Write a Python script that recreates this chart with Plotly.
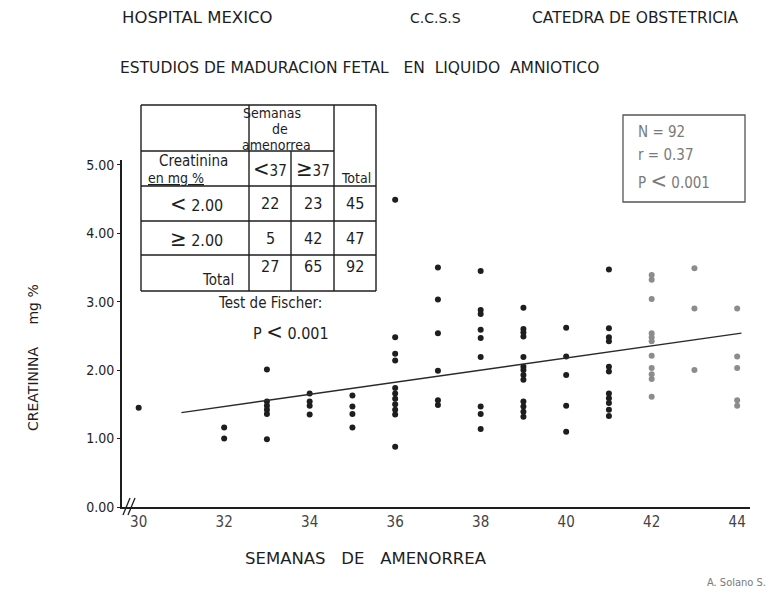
import plotly.graph_objects as go

# ---------------- data ----------------
semanas = [30,
           32, 32,
           33, 33, 33, 33, 33, 33,
           34, 34, 34, 34,
           35, 35, 35, 35,
           36, 36, 36, 36, 36, 36, 36, 36, 36, 36, 36,
           37, 37, 37, 37, 37, 37,
           38, 38, 38, 38, 38, 38, 38, 38, 38,
           39, 39, 39, 39, 39, 39, 39, 39, 39, 39, 39, 39, 39,
           40, 40, 40, 40, 40,
           41, 41, 41, 41, 41, 41, 41, 41, 41, 41, 41,
           42, 42, 42, 42, 42, 42, 42, 42, 42, 42, 42,
           43, 43, 43,
           44, 44, 44, 44, 44]
creatinina = [1.45,
              1.16, 1.00,
              2.01, 1.54, 1.48, 1.42, 1.36, 0.99,
              1.66, 1.54, 1.48, 1.35,
              1.63, 1.47, 1.36, 1.16,
              4.49, 2.48, 2.24, 2.14, 1.74, 1.66, 1.58, 1.50, 1.42, 1.35, 0.88,
              3.50, 3.03, 2.54, 1.99, 1.56, 1.49,
              3.45, 2.88, 2.82, 2.59, 2.47, 2.19, 1.47, 1.36, 1.14,
              2.91, 2.60, 2.55, 2.49, 2.19, 2.05, 2.00, 1.93, 1.86, 1.54, 1.47, 1.39, 1.32,
              2.62, 2.20, 1.93, 1.48, 1.10,
              3.47, 2.61, 2.48, 2.42, 2.05, 1.98, 1.66, 1.59, 1.52, 1.42, 1.33,
              3.39, 3.32, 3.04, 2.54, 2.48, 2.42, 2.21, 2.03, 1.94, 1.87, 1.61,
              3.49, 2.90, 2.00,
              2.90, 2.20, 2.03, 1.56, 1.48]

recta_x = [31.0, 44.1]
recta_y = [1.38, 2.54]

x_ticks = [30, 32, 34, 36, 38, 40, 42, 44]
y_ticks = [0, 1, 2, 3, 4, 5]

# contingency table
tabla_filas = ["< 2.00", "≥ 2.00", "Total"]
tabla_menor37 = [22, 5, 27]
tabla_mayor37 = [23, 42, 65]
tabla_total = [45, 47, 92]

stats_lines = ["N = 92", "r = 0.37", "P < 0.001"]

# ---------------- layout helpers ----------------
W, H = 773, 601
L, R, T, B = 122, 750, 160, 507
XR = [29.61, 44.30]
YR = [0, 5.07]


def px(x):
    return (x - L) / (R - L)


def py(y):
    return (B - y) / (B - T)


COND = "Liberation Sans Narrow, DejaVu Sans Condensed, Roboto Condensed, Arial Narrow, sans-serif"
WIDE = "DejaVu Sans, Verdana, sans-serif"
INK = "#1e1e1e"
FADE = "#7a7a7a"

colors = [INK if s <= 41 else "#8c8c8c" for s in semanas]

fig = go.Figure()
fig.add_trace(go.Scatter(x=semanas, y=creatinina, mode="markers",
                         marker=dict(size=6, color=colors, line=dict(width=0)),
                         showlegend=False, hoverinfo="x+y"))
fig.add_trace(go.Scatter(x=recta_x, y=recta_y, mode="lines",
                         line=dict(color="#2a2a2a", width=1.3),
                         showlegend=False, hoverinfo="skip"))

shapes = []


def hline(x0, x1, y, color=INK, w=1.4):
    shapes.append(dict(type="line", xref="paper", yref="paper",
                       x0=px(x0), x1=px(x1), y0=py(y), y1=py(y),
                       line=dict(color=color, width=w)))


def vline(x, y0, y1, color=INK, w=1.4):
    shapes.append(dict(type="line", xref="paper", yref="paper",
                       x0=px(x), x1=px(x), y0=py(y0), y1=py(y1),
                       line=dict(color=color, width=w)))


# table frame
tx0, tx1, ty0, ty1 = 141, 376, 105, 291
hline(tx0, tx1, ty0)
hline(tx0, tx1, ty1)
vline(tx0, ty0, ty1)
vline(tx1, ty0, ty1)
vline(249, ty0, ty1)
vline(291, 151, ty1)
vline(334, ty0, ty1)
hline(tx0, 334, 151)
hline(tx0, tx1, 186)
hline(tx0, tx1, 221)
hline(tx0, tx1, 255)

# stats box
shapes.append(dict(type="rect", xref="paper", yref="paper",
                   x0=px(623), x1=px(745), y0=py(202), y1=py(115),
                   line=dict(color="#555555", width=1.3)))

# axis break marks "//" at the origin
for dx in (0, 5):
    shapes.append(dict(type="line", xref="paper", yref="paper",
                       x0=px(123 + dx), x1=px(130 + dx), y0=py(515), y1=py(498),
                       line=dict(color=INK, width=1.3)))

annotations = []


def text(x, y, s, size=14, family=COND, color=INK, xanchor="center", textangle=0):
    annotations.append(dict(xref="paper", yref="paper", x=px(x), y=py(y), text=s,
                            showarrow=False, xanchor=xanchor, yanchor="middle",
                            textangle=textangle,
                            font=dict(size=size, family=family, color=color)))


# headers
text(120, 18, "HOSPITAL MEXICO", size=16.5, family=WIDE, xanchor="left")
text(408, 18, "C.C.S.S", size=14, family=WIDE, xanchor="left")
text(530, 18, "CATEDRA DE OBSTETRICIA", size=15.5, family=WIDE, xanchor="left")
text(118, 68, "ESTUDIOS DE MADURACION FETAL   EN  LIQUIDO  AMNIOTICO", size=15.5,
     family=WIDE, xanchor="left")

# axis titles (placed as in the reference, off-centre)
text(243, 558, "SEMANAS   DE   AMENORREA", size=16.5, family=WIDE, xanchor="left")
text(33, 358, "CREATININA     mg %", size=14, family=WIDE, textangle=-90)

# table texts
big = '<span style="font-size:22px">{}</span>'
text(272, 113, "Semanas", size=14)
text(280, 129, "de", size=14)
text(276, 145, "amenorrea", size=14)
text(193, 161, "Creatinina", size=15)
text(176, 178, "<u>en mg %</u>", size=14)
text(270, 168, big.format("<") + "37", size=15)
text(313, 168, big.format("≥") + "37", size=15)
text(356, 178, "Total", size=14)
row_y = [203, 238, 271]
for i, lab in enumerate(tabla_filas):
    if lab == "Total":
        text(218, 280, lab, size=15)
    else:
        text(196, row_y[i], big.format(lab[0]) + " " + lab[2:], size=16)
    yy = row_y[i] if lab != "Total" else 266
    text(270, yy, str(tabla_menor37[i]), size=16)
    text(313, yy, str(tabla_mayor37[i]), size=16)
    text(355, yy, str(tabla_total[i]), size=16)
text(270, 303, "Test de Fischer:", size=15)
text(291, 331, "P " + big.format("<") + " 0.001", size=16)

# stats box texts
for s, yy in zip(stats_lines, [132, 155, 180]):
    if s.startswith("P"):
        s = "P " + big.format("<") + " 0.001"
    text(636, yy, s, size=15, color=FADE, xanchor="left")

# signature
text(705, 582, "A. Solano S.", size=11, color=FADE, xanchor="left")

fig.update_layout(
    width=W, height=H,
    margin=dict(l=L, r=W - R, t=T, b=H - B, autoexpand=False),
    paper_bgcolor="white", plot_bgcolor="white",
    shapes=shapes, annotations=annotations,
    showlegend=False,
    xaxis=dict(range=XR, tickvals=x_ticks, showgrid=False, zeroline=False,
               showline=True, linecolor=INK, linewidth=1.6, ticks="",
               tickfont=dict(size=15, family=COND, color="#444444")),
    yaxis=dict(range=YR, tickvals=y_ticks, tickformat=".2f", showgrid=False,
               zeroline=False, showline=True, linecolor=INK, linewidth=1.6,
               ticks="outside", ticklen=3, tickcolor=INK,
               tickfont=dict(size=14, family=COND, color=INK)),
)

fig.write_html("out.html", config={"displayModeBar": False},
               post_script="document.body.style.margin='0';document.body.style.overflow='hidden';")
